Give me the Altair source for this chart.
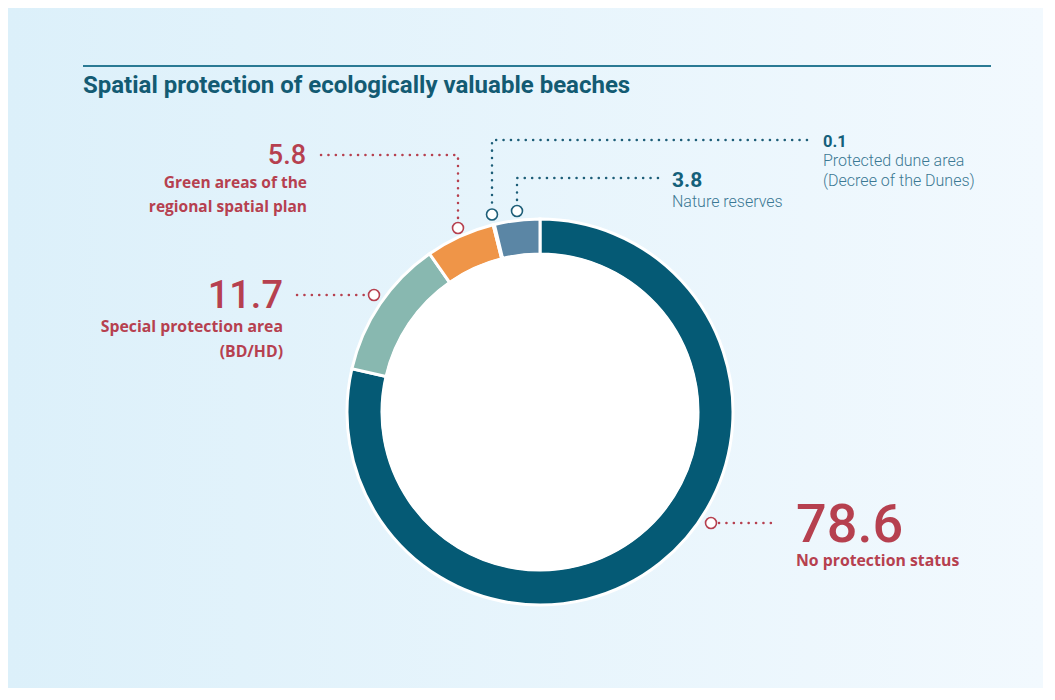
import altair as alt
import pandas as pd

# ---------------- data ----------------
categories = [
    "No protection status",
    "Special protection area (BD/HD)",
    "Green areas of the regional spatial plan",
    "Protected dune area (Decree of the Dunes)",
    "Nature reserves",
]
values = [78.6, 11.7, 5.8, 0.1, 3.8]
label_lines = [
    ["No protection status"],
    ["Special protection area", "(BD/HD)"],
    ["Green areas of the", "regional spatial plan"],
    ["Protected dune area", "(Decree of the Dunes)"],
    ["Nature reserves"],
]
title_text = "Spatial protection of ecologically valuable beaches"

# ---------------- style / layout ----------------
W, H = 1035, 680
CX, CY = 532, 404
R_OUT, R_IN = 193, 158
seg_colors = ["#055a75", "#88b8b0", "#ef9548", "#2d6f8f", "#5b86a5"]
RED = "#b6404f"
BLUE_NUM = "#14607a"
BLUE_TXT = "#3b7893"
BLUE_LINE = "#1d5e78"
label_color = [RED, RED, RED, BLUE_NUM, BLUE_NUM]
sub_color = [RED, RED, RED, BLUE_TXT, BLUE_TXT]
line_color = [RED, RED, RED, BLUE_LINE, BLUE_LINE]

# annotation layout (pixel positions)
marker_pos = [(703, 515), (366, 287), (450, 220), (484, 206.5), (509, 203)]
leader_paths = [
    [(711, 515), (763, 515)],
    [(289, 287), (358, 287)],
    [(313, 147), (450, 147), (450, 213)],
    [(799, 132), (484, 132), (484, 199)],
    [(650, 170), (509, 170), (509, 196)],
]
num_pos = [(788, 534), (275, 300), (298, 156), (815, 139), (664, 179)]
num_size = [54, 38, 27, 16.5, 21]
num_align = ["left", "right", "right", "left", "left"]
num_font = ["Roboto"] * 5
num_weight = [500, 500, 500, 700, 700]
sub_x = [788, 275, 299, 815, 664]
sub_y0 = [558, 324, 180, 158, 199]
sub_step = [25, 25, 24, 19.5, 19.5]
sub_size = [15.8, 15.8, 15.5, 16, 16]
sub_font = ["Open Sans", "Open Sans", "Open Sans", "Roboto", "Roboto"]
sub_weight = [700, 700, 700, 300, 300]

# ---------------- tables ----------------
arc_df = pd.DataFrame({"category": categories, "value": values,
                       "order": list(range(len(values)))})

rows = []
for i, path in enumerate(leader_paths):
    for j, (px, py) in enumerate(path):
        rows.append({"id": i, "seq": j, "x": px, "y": py, "col": line_color[i]})
lines_df = pd.DataFrame(rows)

mk_df = pd.DataFrame({"x": [p[0] for p in marker_pos], "y": [p[1] for p in marker_pos],
                      "col": line_color})

txt_rows = []
for i in range(len(values)):
    txt_rows.append({"t": f"{values[i]:.1f}", "x": num_pos[i][0], "y": num_pos[i][1],
                     "fs": num_size[i], "col": label_color[i], "align": num_align[i],
                     "w": num_weight[i], "font": num_font[i]})
    for k, ln in enumerate(label_lines[i]):
        txt_rows.append({"t": ln, "x": sub_x[i], "y": sub_y0[i] + k * sub_step[i],
                         "fs": sub_size[i], "col": sub_color[i], "align": num_align[i],
                         "w": sub_weight[i], "font": sub_font[i]})
txt_df = pd.DataFrame(txt_rows)

xs = alt.Scale(domain=[0, W], nice=False, zero=False)
ys = alt.Scale(domain=[0, H], nice=False, zero=False, reverse=True)


def X():
    return alt.X("x:Q", scale=xs, axis=None)


def Y():
    return alt.Y("y:Q", scale=ys, axis=None)


one = pd.DataFrame({"a": [0]})

grad = alt.LinearGradient(
    gradient="linear", x1=0, x2=1, y1=0, y2=0,
    stops=[alt.GradientStop(offset=0, color="#dcf0fa"),
           alt.GradientStop(offset=1, color="#f2f9fe")])

bg = alt.Chart(one).mark_rect(fill=grad).encode(
    x=alt.value(0), x2=alt.value(W), y=alt.value(0), y2=alt.value(H))

top_rule = alt.Chart(one).mark_rule(color="#2a7a94", strokeWidth=2).encode(
    x=alt.value(75), x2=alt.value(983), y=alt.value(58))

title = alt.Chart(one).mark_text(
    text=title_text, align="left", baseline="alphabetic", font="Roboto",
    fontSize=24, fontWeight="bold", color="#135b73"
).encode(x=alt.value(75), y=alt.value(85))

inner = alt.Chart(one).mark_arc(
    theta=0, theta2=6.2832, outerRadius=R_IN + 1, innerRadius=0, color="white"
).encode(x=alt.value(CX), y=alt.value(CY))

ring = alt.Chart(arc_df).mark_arc(
    outerRadius=R_OUT, innerRadius=R_IN, stroke="white", strokeWidth=3
).encode(
    theta=alt.Theta("value:Q", stack=True),
    color=alt.Color("category:N", scale=alt.Scale(domain=categories, range=seg_colors),
                    legend=None),
    order=alt.Order("order:Q"),
    x=alt.value(CX), y=alt.value(CY),
)

leaders = alt.Chart(lines_df).mark_line(
    strokeDash=[0.1, 7.3], strokeCap="round", strokeWidth=2.5
).encode(x=X(), y=Y(), detail="id:N", order="seq:Q",
         color=alt.Color("col:N", scale=None))

markers = alt.Chart(mk_df).mark_point(
    shape="circle", filled=True, fill="white", size=120, strokeWidth=1.6, opacity=1
).encode(x=X(), y=Y(), stroke=alt.Stroke("col:N", scale=None))

text_layers = []
for (align, w, font), sub in txt_df.groupby(["align", "w", "font"]):
    text_layers.append(
        alt.Chart(sub.reset_index(drop=True)).mark_text(
            align=align, baseline="alphabetic", font=font, fontWeight=int(w)
        ).encode(x=X(), y=Y(), text="t:N",
                 size=alt.Size("fs:Q", scale=None),
                 color=alt.Color("col:N", scale=None))
    )

chart = alt.layer(bg, top_rule, title, ring, inner, leaders, markers, *text_layers).properties(
    width=W, height=H, padding=0, autosize=alt.AutoSizeParams(type="none")
).configure_view(stroke=None).configure(background="#e6f4fc")

chart.save("out.html", embed_options={"renderer": "svg", "actions": False})
